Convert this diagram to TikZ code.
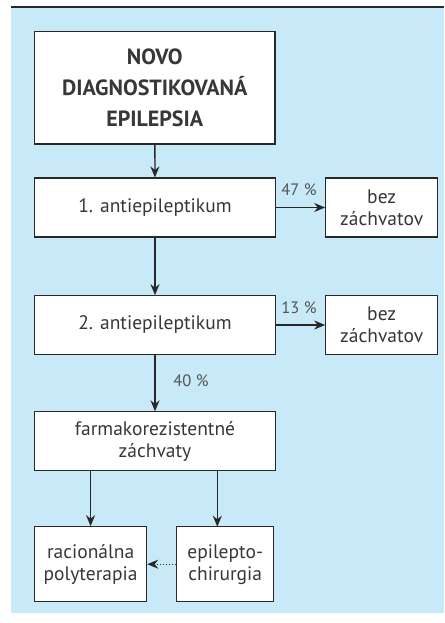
\documentclass[tikz,border=0pt]{standalone}
\usepackage{fontspec}
\setmainfont{PT Sans}
\usetikzlibrary{arrows.meta}
\definecolor{bgblue}{RGB}{199,233,248}
\definecolor{ink}{RGB}{40,40,40}
\definecolor{txt}{RGB}{55,55,55}
\tikzset{
  box/.style={draw=ink, line width=1.1pt, fill=white, align=center, inner sep=0pt,
    text=txt, font=\fontsize{19.5}{22}\selectfont},
  conn/.style={draw=ink, line width=1.3pt, -{Stealth[length=11pt,width=9pt]}},
  dotconn/.style={draw=ink, line width=1pt, dotted, -{Stealth[length=11pt,width=9pt]}},
  pct/.style={text=txt!85, font=\fontsize{16.5}{18}\selectfont, inner sep=0pt}
}
\begin{document}
\begin{tikzpicture}[x=1pt,y=-1pt]
\useasboundingbox (0,0) rectangle (444,623);
\fill[bgblue] (11,8) rectangle (444,613);
\draw[ink, line width=1.6pt] (11,7) -- (444,7);

\node[box, minimum width=240.5pt, minimum height=112.5pt,
  font=\bfseries\fontsize{22}{31}\selectfont] (t) at (154.75,87.75)
  {NOVO\\DIAGNOSTIKOVANÁ\\EPILEPSIA};
\node[box, minimum width=241pt, minimum height=59pt] (a1) at (155,207.5) {1. antiepileptikum};
\node[box, minimum width=112pt, minimum height=59pt] (b1) at (381.7,207.5) {bez\\záchvatov};
\node[box, minimum width=241pt, minimum height=58.6pt] (a2) at (155,325) {2. antiepileptikum};
\node[box, minimum width=112pt, minimum height=58.6pt] (b2) at (381.7,325) {bez\\záchvatov};
\node[box, minimum width=241pt, minimum height=58.3pt] (f) at (155,441) {farmakorezistentné\\záchvaty};
\node[box, minimum width=112.2pt, minimum height=75pt] (r) at (90.6,564.2) {racionálna\\polyterapia};
\node[box, minimum width=97pt, minimum height=75pt] (e) at (225.2,564.2) {epilepto-\\chirurgia};

\node[pct] (p47) at (299,190) {47 \%};
\node[pct] (p13) at (299,307.5) {13 \%};
\node[pct] (p40) at (191,381) {40 \%};

\coordinate (fr) at (217.3,470);
\coordinate (er) at (217.3,526.7);

\draw[conn] (t) -- (a1);
\draw[conn] (a1) -- (a2);
\draw[conn] (a2) -- (f);
\draw[conn] (a1) -- (b1);
\draw[conn] (a2) -- (b2);
\draw[conn] (f.south -| r) -- (r);
\draw[conn] (fr) -- (er);
\draw[dotconn] (e) -- (r);
\end{tikzpicture}
\end{document}
